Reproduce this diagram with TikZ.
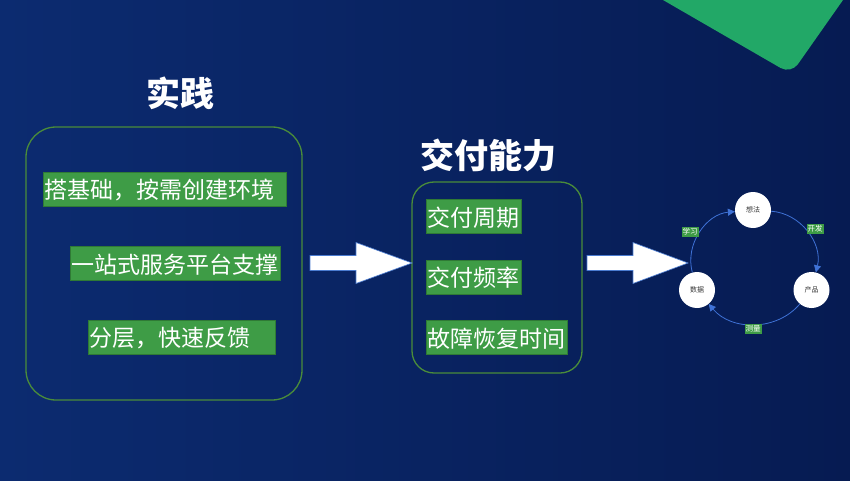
\documentclass[tikz,border=0pt]{standalone}
\usepackage{fontspec}
\setmainfont{Noto Sans CJK SC}
\newfontfamily\cjk{Noto Sans CJK SC}
\usetikzlibrary{arrows.meta}
\definecolor{bgL}{HTML}{0C2B70}
\definecolor{bgR}{HTML}{061B52}
\definecolor{tri}{HTML}{22A867}
\definecolor{frame}{HTML}{4A8C3A}
\definecolor{lab}{HTML}{3E9C46}
\definecolor{labedge}{HTML}{2F7A35}
\definecolor{cyc}{HTML}{3F72D6}
\definecolor{arrEdge}{HTML}{4A7BD0}
\tikzset{
  container/.style={draw=frame, line width=1.3pt, rounded corners=#1},
  title/.style={text=white, font=\cjk\bfseries\fontsize{34}{38}\selectfont},
  label/.style={fill=lab, draw=labedge, line width=0.5pt, text=white, font=\cjk\fontsize{23}{26}\selectfont,
    anchor=west, inner xsep=1pt, inner ysep=0pt, minimum height=34pt, align=left, text depth=0pt},
  cnode/.style={circle, fill=white, minimum size=36pt, inner sep=0pt, font=\cjk\fontsize{7}{8}\selectfont, text=black!80},
  clab/.style={fill=lab, text=white, font=\cjk\fontsize{7.5}{8}\selectfont, inner xsep=1pt, inner ysep=1.2pt},
  cedge/.style={draw=cyc, line width=0.8pt, -{Triangle[length=7pt,width=7pt]}},
  blockarrow/.style={fill=white, draw=arrEdge, line width=0.6pt, line join=miter},
}
\begin{document}
\begin{tikzpicture}[x=1pt,y=1pt]
\useasboundingbox (0,0) rectangle (850,480);
\shade[left color=bgL, right color=bgR] (0,0) rectangle (850,480);
% top-right green triangle
\fill[tri] (663,480) -- (843,480) [rounded corners=12] -- (791,406) [sharp corners] -- cycle;

% left block
\node[title] (t1) at (180,387) {实践};
\draw[container=30] (26,80) rectangle (302,353);
\node[label, text width=241pt] (l1) at (43,291) {搭基础，按需创建环境};
\node[label, text width=208pt] (l2) at (70,216.5) {一站式服务平台支撑};
\node[label, text width=185pt] (l3) at (88,143) {分层，快速反馈};

% middle block
\node[title] (t2) at (488,325) {交付能力};
\draw[container=22] (412,107) rectangle (582,298);
\node[label, text width=93pt] (m1) at (426,263.5) {交付周期};
\node[label, text width=93pt] (m2) at (426,203) {交付频率};
\node[label, text width=139pt] (m3) at (426,142.5) {故障恢复时间};

% block arrows
\draw[blockarrow] (310,209.5) -- (356,209.5) -- (356,196.5) -- (412,217) -- (356,237.5) -- (356,224.5) -- (310,224.5) -- cycle;
\draw[blockarrow] (587,209.5) -- (633,209.5) -- (633,196.5) -- (688,217) -- (633,237.5) -- (633,224.5) -- (587,224.5) -- cycle;

% cycle
\node[cnode] (xf) at (753,270) {想法};
\node[cnode] (cp) at (811.5,190) {产品};
\node[cnode] (sj) at (697,190) {数据};
\draw[cedge] (xf) to[bend left=50] (cp);
\draw[cedge] (cp) to[bend left=50] (sj);
\draw[cedge] (sj) to[bend left=50] (xf);
\node[clab] (k1) at (815,251) {开发};
\node[clab] (k2) at (753,151) {测量};
\node[clab] (k3) at (690,248) {学习};
\end{tikzpicture}
\end{document}
